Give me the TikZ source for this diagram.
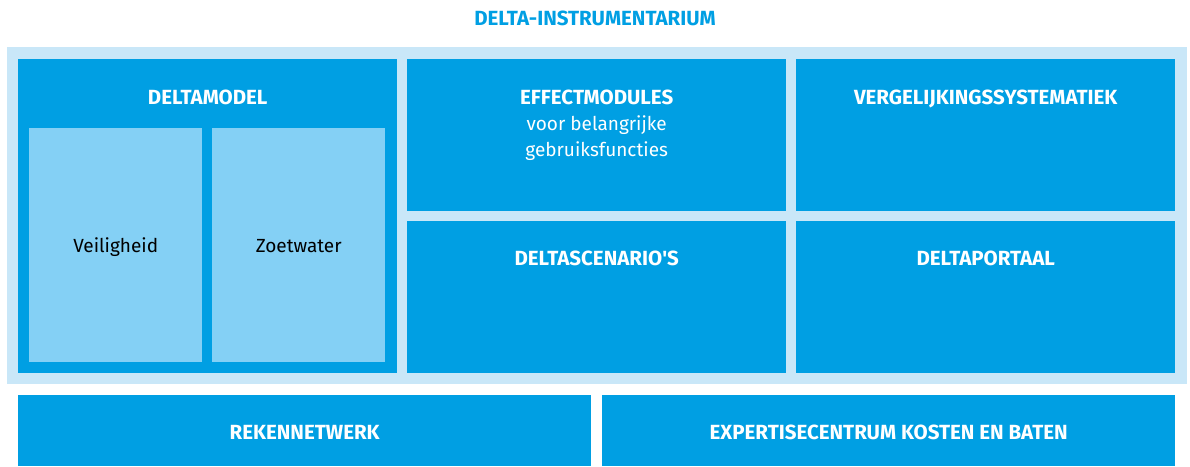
\documentclass[tikz,border=0pt]{standalone}
\usepackage{fontspec}
\setmainfont{Fira Sans}
\usepackage{xcolor}
\usetikzlibrary{positioning}
\definecolor{deltablauw}{HTML}{009FE3}
\definecolor{bandblauw}{HTML}{C9E7F8}
\definecolor{lichtblauw}{HTML}{84D0F5}
\tikzset{
  band/.style={rectangle, fill=bandblauw, anchor=north west, inner sep=0pt},
  blok/.style={rectangle, fill=deltablauw, anchor=north west, inner sep=0pt},
  subblok/.style={rectangle, fill=lichtblauw, anchor=north west, inner sep=0pt},
  kop/.style={text=white, font=\fontsize{20.5}{26}\selectfont\bfseries, align=center, anchor=base, inner sep=0pt},
  sub/.style={text=black, font=\fontsize{19}{26}\selectfont, anchor=base, inner sep=0pt},
  titel/.style={text=deltablauw, font=\fontsize{20.5}{24}\selectfont\bfseries, anchor=base, inner sep=0pt},
}

\begin{document}
\begin{tikzpicture}[x=1pt, y=-1pt]
\useasboundingbox (0,0) rectangle (1190,466);
\node[titel] (titel) at (595,25) {DELTA-INSTRUMENTARIUM};
\node[band, minimum width=1180pt, minimum height=337pt] (band) at (7,47) {};
% bovenste rij
\node[blok, minimum width=379pt, minimum height=314pt] (model) at (18,59) {};
\node[blok, minimum width=379pt, minimum height=152pt] (effect) at (407,59) {};
\node[blok, minimum width=379pt, minimum height=152pt] (verg) at (796,59) {};
\node[blok, minimum width=379pt, minimum height=152pt] (scen) at (407,221) {};
\node[blok, minimum width=379pt, minimum height=152pt] (portaal) at (796,221) {};
\node[subblok, minimum width=173pt, minimum height=234pt] (veilig) at (29,128) {};
\node[subblok, minimum width=173pt, minimum height=234pt] (zoet) at (212,128) {};
% onderste rij
\node[blok, minimum width=573pt, minimum height=71pt] (reken) at (18,395) {};
\node[blok, minimum width=573pt, minimum height=71pt] (expert) at (602,395) {};
% teksten
\node[kop] (modelkop) at ([yshift=-45pt]model.north) {DELTAMODEL};
\node[kop] (effectkop) at ([yshift=-45pt]effect.north) {EFFECTMODULES};
\node[kop, font=\fontsize{19}{26.5}\selectfont, below=11pt of effectkop.base, anchor=north]
  (effecttekst) {voor belangrijke\\gebruiksfuncties};
\node[kop] (vergkop) at ([yshift=-45pt]verg.north) {VERGELIJKINGSSYSTEMATIEK};
\node[kop] (scenkop) at ([yshift=-44pt]scen.north) {DELTASCENARIO\textquotesingle S};
\node[kop] (portaalkop) at ([yshift=-44pt]portaal.north) {DELTAPORTAAL};
\node[sub] (veiligtekst) at ([yshift=-7pt]veilig.center) {Veiligheid};
\node[sub] (zoettekst) at ([yshift=-7pt]zoet.center) {Zoetwater};
\node[kop] (rekenkop) at ([yshift=-44pt]reken.north) {REKENNETWERK};
\node[kop] (expertkop) at ([yshift=-44pt]expert.north) {EXPERTISECENTRUM KOSTEN EN BATEN};
\end{tikzpicture}
\end{document}
